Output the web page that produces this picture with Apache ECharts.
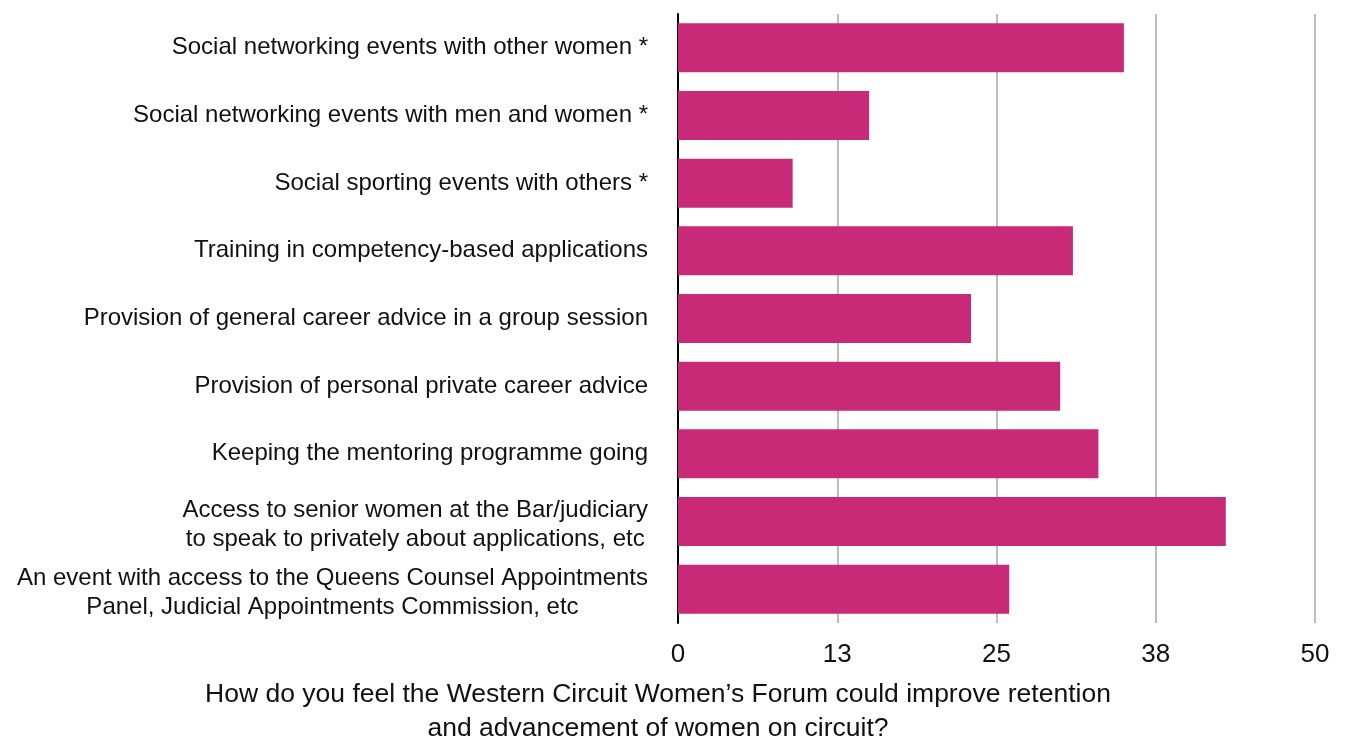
<!DOCTYPE html>
<html>
<head>
<meta charset="utf-8">
<script src="https://cdn.jsdelivr.net/npm/echarts@6/dist/echarts.min.js"></script>
<style>
  html, body { margin: 0; padding: 0; background: #fff; }
  #chart { width: 1347px; height: 740px; }
</style>
</head>
<body>
<div id="chart"></div>
<script>
// categories, top to bottom
const categories = [
  "Social networking events with other women *",
  "Social networking events with men and women *",
  "Social sporting events with others *",
  "Training in competency-based applications",
  "Provision of general career advice in a group session",
  "Provision of personal private career advice",
  "Keeping the mentoring programme going",
  "Access to senior women at the Bar/judiciary\nto speak to privately about applications, etc",
  "An event with access to the Queens Counsel Appointments\nPanel, Judicial Appointments Commission, etc"
];
const values = [35, 15, 9, 31, 23, 30, 33, 43, 26];
const tickValues = [0, 12.5, 25, 37.5, 50];
const axisTitle = "How do you feel the Western Circuit Women\u2019s Forum could improve retention\nand advancement of women on circuit?";

const font = "'Liberation Sans', Arial, Helvetica, sans-serif";

const chart = echarts.init(document.getElementById("chart"), null, { renderer: "canvas" });

// two-line labels sit a little lower than their bar in the original
const yData = categories.map((c) =>
  c.includes("\n") ? { value: c, textStyle: { padding: [7, 0, 0, 0] } } : c
);

chart.setOption({
  animation: false,
  title: {
    text: axisTitle,
    left: 653,
    top: 673,
    textAlign: "center",
    textStyle: {
      fontFamily: font,
      fontSize: 26.5,
      fontWeight: "normal",
      color: "#111",
      lineHeight: 34,
      align: "center"
    }
  },
  grid: {
    left: 678,
    right: 32,
    top: 14,
    height: 609,
    containLabel: false
  },
  xAxis: {
    type: "value",
    min: tickValues[0],
    max: tickValues[tickValues.length - 1],
    interval: tickValues[1] - tickValues[0],
    axisLine: { show: false },
    axisTick: { show: false },
    splitLine: {
      show: true,
      lineStyle: { color: "#bdbdbd", width: 2 }
    },
    axisLabel: {
      margin: 19,
      fontFamily: font,
      fontSize: 26,
      color: "#111",
      formatter: (v) => String(Math.round(v))
    }
  },
  yAxis: {
    type: "category",
    inverse: true,
    data: yData,
    axisTick: { show: false },
    axisLine: {
      show: true,
      lineStyle: { color: "#000", width: 2 }
    },
    axisLabel: {
      margin: 30,
      fontFamily: font,
      fontSize: 24,
      color: "#111",
      lineHeight: 29,
      formatter: (v) => v.split("\n").map((l) => "{c|" + l + "}").join("\n"),
      rich: {
        c: {
          align: "center",
          fontFamily: font,
          fontSize: 24,
          color: "#111",
          lineHeight: 29
        }
      }
    }
  },
  series: [
    {
      type: "bar",
      data: values,
      barWidth: 49,
      itemStyle: { color: "#C92A78" }
    }
  ]
});
</script>
</body>
</html>
